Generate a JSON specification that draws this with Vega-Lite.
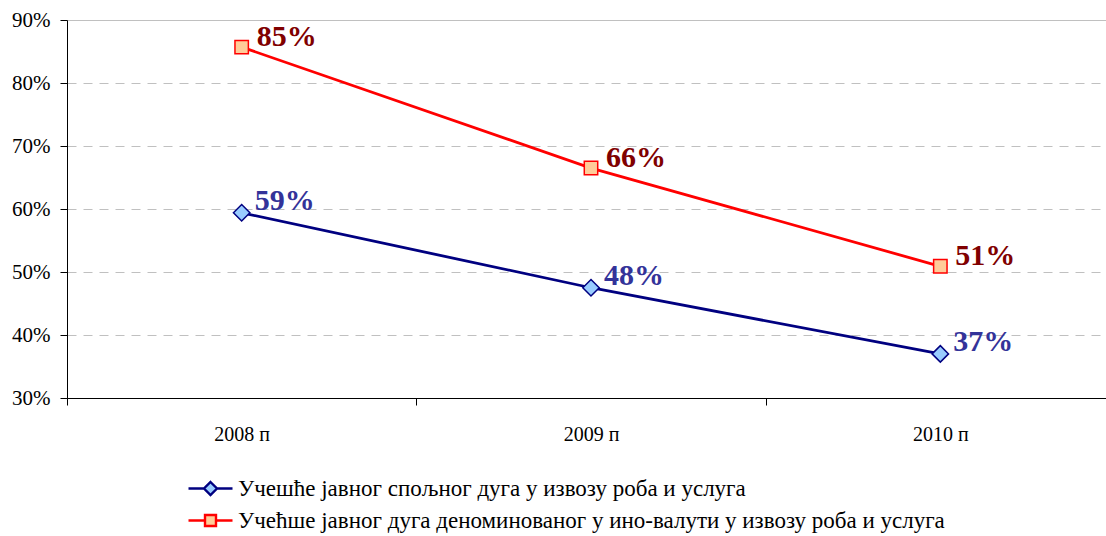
{
  "$schema": "https://vega.github.io/schema/vega-lite/v6.json",
  "autosize": {"type": "none"},
  "padding": {"left": 67, "top": 20, "right": 0, "bottom": 138},
  "width": 1039,
  "height": 378,
  "background": "white",
  "data": {"values": [
    {"year": "2008 п", "series": "Учешће јавног спољног дуга у извозу роба и услуга", "value": 0.594, "label": "59%"},
    {"year": "2009 п", "series": "Учешће јавног спољног дуга у извозу роба и услуга", "value": 0.475, "label": "48%"},
    {"year": "2010 п", "series": "Учешће јавног спољног дуга у извозу роба и услуга", "value": 0.370, "label": "37%"},
    {"year": "2008 п", "series": "Учећше јавног дуга деноминованог у ино-валути у извозу роба и услуга", "value": 0.857, "label": "85%"},
    {"year": "2009 п", "series": "Учећше јавног дуга деноминованог у ино-валути у извозу роба и услуга", "value": 0.665, "label": "66%"},
    {"year": "2010 п", "series": "Учећше јавног дуга деноминованог у ино-валути у извозу роба и услуга", "value": 0.509, "label": "51%"}
  ]},
  "encoding": {
    "x": {
      "field": "year", "type": "ordinal",
      "scale": {"type": "band", "range": [0, 1048], "paddingInner": 0, "paddingOuter": 0},
      "axis": {
        "title": null, "labelAngle": 0, "tickBand": "extent", "grid": false,
        "domainColor": "#000000", "tickColor": "#000000", "tickSize": 7,
        "labelFont": "Liberation Serif", "labelFontSize": 20, "labelColor": "#000000",
        "labelPadding": 19
      }
    },
    "y": {
      "field": "value", "type": "quantitative",
      "scale": {"domain": [0.3, 0.9], "nice": false, "zero": false},
      "axis": {
        "title": null, "values": [0.3, 0.4, 0.5, 0.6, 0.7, 0.8, 0.9], "format": ".0%",
        "domainColor": "#000000", "tickColor": "#000000", "tickSize": 7,
        "labelFont": "Liberation Serif", "labelFontSize": 21, "labelColor": "#000000",
        "labelPadding": 10,
        "gridColor": "#c0c0c0", "gridWidth": 1,
        "gridDash": {"condition": {"test": "datum.value >= 0.89", "value": []}, "value": [9, 7]}
      }
    }
  },
  "layer": [
    {
      "mark": {"type": "line", "strokeWidth": 2.8},
      "encoding": {
        "stroke": {
          "field": "series", "type": "nominal",
          "scale": {
            "domain": ["Учешће јавног спољног дуга у извозу роба и услуга", "Учећше јавног дуга деноминованог у ино-валути у извозу роба и услуга"],
            "range": ["#000080", "#ff0000"]
          },
          "legend": {
            "title": null, "orient": "none", "legendX": 132, "legendY": 457,
            "direction": "vertical",
            "symbolSize": 400, "symbolStrokeWidth": 2.5, "symbolOpacity": 1,
            "labelFont": "Liberation Serif", "labelFontSize": 23, "labelColor": "#000000",
            "labelOffset": 16, "rowPadding": 8, "labelLimit": 1000,
            "encode": {
              "symbols": {
                "update": {
                  "shape": {"signal": "datum.index === 0 ? 'M-2.2,0L-0.65,0M0.65,0L2.2,0M0,-0.65L0.65,0L0,0.65L-0.65,0Z' : 'M-2.2,0L-0.55,0M0.55,0L2.2,0M-0.55,-0.55L0.55,-0.55L0.55,0.55L-0.55,0.55Z'"},
                  "fill": {"signal": "datum.index === 0 ? '#99ccff' : '#ffcc99'"},
                  "fillOpacity": {"value": 1},
                  "strokeWidth": {"value": 2.4}
                }
              }
            }
          }
        }
      }
    },
    {
      "mark": {"type": "point", "filled": false, "opacity": 1, "strokeWidth": 1.5},
      "encoding": {
        "stroke": {"field": "series", "type": "nominal"},
        "shape": {"field": "series", "type": "nominal", "scale": {"range": ["diamond", "square"]}, "legend": null},
        "fill": {"field": "series", "type": "nominal", "scale": {"range": ["#99ccff", "#ffcc99"]}, "legend": null},
        "size": {"field": "series", "type": "nominal", "scale": {"range": [270, 180]}, "legend": null}
      }
    },
    {
      "transform": [{"filter": "indexof(datum.series, 'спољног') >= 0"}],
      "mark": {"type": "text", "align": "left", "baseline": "middle", "dx": 13, "dy": -12, "font": "Liberation Serif", "fontSize": 30, "fontWeight": "bold", "color": "#333399"},
      "encoding": {"text": {"field": "label"}}
    },
    {
      "transform": [{"filter": "indexof(datum.series, 'спољног') < 0"}],
      "mark": {"type": "text", "align": "left", "baseline": "middle", "dx": 15, "dy": -10, "font": "Liberation Serif", "fontSize": 30, "fontWeight": "bold", "color": "#800000"},
      "encoding": {"text": {"field": "label"}}
    }
  ]
}
